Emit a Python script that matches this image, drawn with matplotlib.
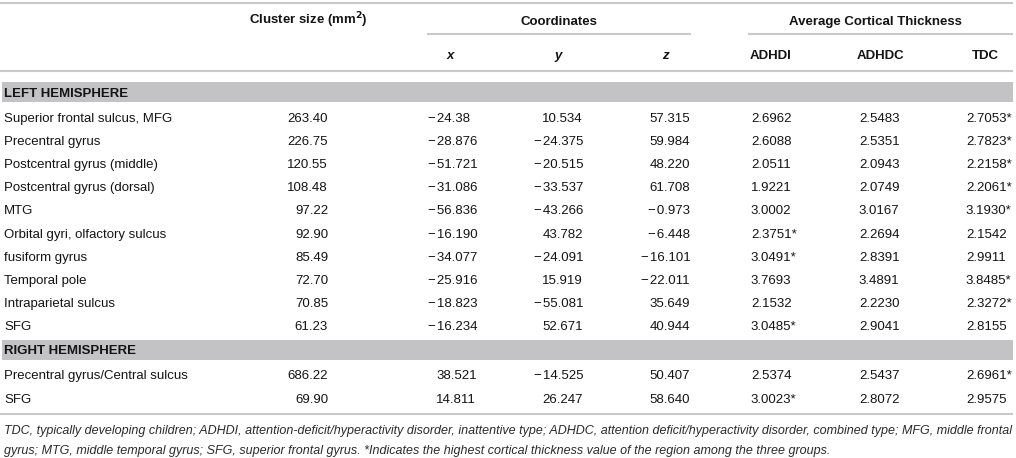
import matplotlib
matplotlib.use("Agg")
import matplotlib.pyplot as plt
from matplotlib.patches import Rectangle
from matplotlib.font_manager import FontProperties

FAMILY = ['Liberation Sans', 'DejaVu Sans']
plt.rcParams['font.family'] = FAMILY

# ---------------- data ----------------
group_titles = ["LEFT HEMISPHERE", "RIGHT HEMISPHERE"]
regions_left = ["Superior frontal sulcus, MFG", "Precentral gyrus", "Postcentral gyrus (middle)",
                "Postcentral gyrus (dorsal)", "MTG", "Orbital gyri, olfactory sulcus", "fusiform gyrus",
                "Temporal pole", "Intraparietal sulcus", "SFG"]
regions_right = ["Precentral gyrus/Central sulcus", "SFG"]

cluster_left = ["263.40", "226.75", "120.55", "108.48", "97.22", "92.90", "85.49", "72.70", "70.85", "61.23"]
x_left = ["-24.38", "-28.876", "-51.721", "-31.086", "-56.836", "-16.190", "-34.077", "-25.916", "-18.823", "-16.234"]
y_left = ["10.534", "-24.375", "-20.515", "-33.537", "-43.266", "43.782", "-24.091", "15.919", "-55.081", "52.671"]
z_left = ["57.315", "59.984", "48.220", "61.708", "-0.973", "-6.448", "-16.101", "-22.011", "35.649", "40.944"]
adhdi_left = ["2.6962", "2.6088", "2.0511", "1.9221", "3.0002", "2.3751*", "3.0491*", "3.7693", "2.1532", "3.0485*"]
adhdc_left = ["2.5483", "2.5351", "2.0943", "2.0749", "3.0167", "2.2694", "2.8391", "3.4891", "2.2230", "2.9041"]
tdc_left = ["2.7053*", "2.7823*", "2.2158*", "2.2061*", "3.1930*", "2.1542", "2.9911", "3.8485*", "2.3272*", "2.8155"]

cluster_right = ["686.22", "69.90"]
x_right = ["38.521", "14.811"]
y_right = ["-14.525", "26.247"]
z_right = ["50.407", "58.640"]
adhdi_right = ["2.5374", "3.0023*"]
adhdc_right = ["2.5437", "2.8072"]
tdc_right = ["2.6961*", "2.9575"]

header_top = [r"Cluster size (mm$^\mathbf{2}$)", "Coordinates", "Average Cortical Thickness"]
header_sub = ["x", "y", "z", "ADHDI", "ADHDC", "TDC"]

footnote_lines = [
    "TDC, typically developing children; ADHDI, attention-deficit/hyperactivity disorder, inattentive type; ADHDC, attention deficit/hyperactivity disorder, combined type; MFG, middle frontal",
    "gyrus; MTG, middle temporal gyrus; SFG, superior frontal gyrus. *Indicates the highest cortical thickness value of the region among the three groups.",
]

# ---------------- layout ----------------
W, H = 1016, 458
fig = plt.figure(figsize=(W / 100, H / 100), dpi=100)
ax = fig.add_axes([0, 0, 1, 1])
ax.set_xlim(0, W)
ax.set_ylim(H, 0)
ax.axis('off')
fig.canvas.draw()
renderer = fig.canvas.get_renderer()

FS = 9.5
TXT = '#141414'
LINE = '#c9c9c9'
BAR = '#c3c3c5'
RIGHT_EDGE = 1013
cap_half = 4.7  # half cap height in px

dec_x = [309.7, 451.3, 557.3, 664.3, 758.3, 866.3, 973.3]   # decimal point positions per column
sub_cx = [450, 558, 665, 771, 880, 985]
top_cx = [308, 559, 875]

num_prop = FontProperties(family=FAMILY, size=FS)


def text_w(s, prop):
    w, h, d = renderer.get_text_width_height_descent(s, prop, ismath=False)
    return w


def hline(y, x0=0, x1=RIGHT_EDGE):
    ax.plot([x0, x1], [y, y], color=LINE, lw=1.5, solid_capstyle='butt')


def num(value, xd, yc):
    s = value.replace('-', '\u2212\u200a')
    ip = s.split('.')[0]
    x0 = xd - text_w(ip, num_prop)
    ax.text(x0, yc + cap_half, s, ha='left', va='baseline', fontproperties=num_prop, color=TXT)


# header
hline(3)
for t, cx in zip(header_top, top_cx):
    ax.text(cx, 20 + cap_half, t, ha='center', va='baseline', fontsize=FS, fontweight='bold', color=TXT)
hline(34, 427, 691)
hline(34, 748, RIGHT_EDGE)
for i, (t, cx) in enumerate(zip(header_sub, sub_cx)):
    ax.text(cx, 54 + cap_half, t, ha='center', va='baseline', fontsize=FS, fontweight='bold',
            fontstyle='italic' if i < 3 else 'normal', color=TXT)
hline(71)

row_step = 23.2
bar_h = 20
groups = [
    (regions_left, [cluster_left, x_left, y_left, z_left, adhdi_left, adhdc_left, tdc_left]),
    (regions_right, [cluster_right, x_right, y_right, z_right, adhdi_right, adhdc_right, tdc_right]),
]
y_cursor = 82
for title, (regs, cols) in zip(group_titles, groups):
    ax.add_patch(Rectangle((2, y_cursor), RIGHT_EDGE - 2, bar_h, facecolor=BAR, edgecolor='none'))
    ax.text(4, y_cursor + bar_h / 2 + cap_half, title, ha='left', va='baseline', fontsize=FS,
            fontweight='bold', color=TXT)
    yc = y_cursor + bar_h + 15
    for r, reg in enumerate(regs):
        ax.text(4, yc + cap_half, reg, ha='left', va='baseline', fontsize=FS, color=TXT)
        for c, col in enumerate(cols):
            num(col[r], dec_x[c], yc)
        yc += row_step
    y_cursor = yc - row_step + 14

hline(y_cursor + 2)

# footnote (fitted to the table width)
fn_y = [y_cursor + 17 + cap_half, y_cursor + 37 + cap_half]
fs_fn = 8.5
target = RIGHT_EDGE - 4
for _ in range(4):
    fp = FontProperties(family=FAMILY, size=fs_fn, style='italic')
    w = text_w(footnote_lines[0], fp)
    fs_fn = fs_fn * target / w
fp = FontProperties(family=FAMILY, size=fs_fn, style='italic')
for line, yy in zip(footnote_lines, fn_y):
    ax.text(4, yy, line, ha='left', va='baseline', fontproperties=fp, color='#2a2a2a')

fig.savefig('out.png', dpi=100)
